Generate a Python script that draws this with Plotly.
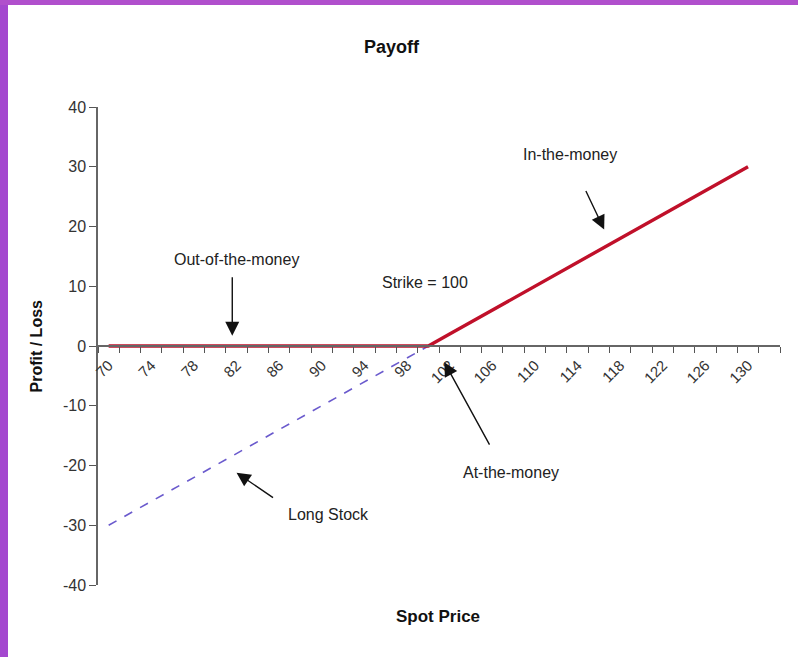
import plotly.graph_objects as go

# 数据：现货价格、看涨期权收益、持有股票收益
spot = [70, 72, 74, 76, 78, 80, 82, 84, 86, 88, 90, 92, 94, 96, 98, 100,
        102, 104, 106, 108, 110, 112, 114, 116, 118, 120, 122, 124, 126, 128, 130]
call_payoff = [0, 0, 0, 0, 0, 0, 0, 0, 0, 0, 0, 0, 0, 0, 0, 0,
               2, 4, 6, 8, 10, 12, 14, 16, 18, 20, 22, 24, 26, 28, 30]
long_stock = [-30, -28, -26, -24, -22, -20, -18, -16, -14, -12, -10, -8, -6, -4, -2, 0,
              2, 4, 6, 8, 10, 12, 14, 16, 18, 20, 22, 24, 26, 28, 30]
x_labels = [70, 74, 78, 82, 86, 90, 94, 98, 102, 106, 110, 114, 118, 122, 126, 130]
y_ticks = [-40, -30, -20, -10, 0, 10, 20, 30, 40]

font = "Liberation Sans, Arial, sans-serif"

fig = go.Figure()
fig.add_trace(go.Scatter(x=spot, y=long_stock, mode="lines",
                         line=dict(color="#6a5acd", width=1.6, dash="dash")))
fig.add_trace(go.Scatter(x=spot, y=call_payoff, mode="lines",
                         line=dict(color="#c0102a", width=3.4)))

fig.update_layout(
    width=798, height=657,
    margin=dict(l=98, r=18, t=107, b=72),
    paper_bgcolor="white", plot_bgcolor="white",
    showlegend=False,
    font=dict(family=font, color="#222"),
)

fig.update_xaxes(
    range=[69, 133], anchor="free", position=0.5,
    tickmode="array", tickvals=x_labels, ticktext=[str(v) for v in x_labels],
    tickangle=-45, ticks="", showgrid=False, zeroline=False,
    showline=True, linecolor="#666", linewidth=1.5,
    tickfont=dict(size=15, color="#333"), ticklabelstandoff=4,
    minor=dict(tick0=69, dtick=2, ticks="outside", ticklen=6,
               tickcolor="#555", tickwidth=1.2, showgrid=False),
)
fig.update_yaxes(
    range=[-40, 40], tickmode="array", tickvals=y_ticks,
    ticktext=[str(v) for v in y_ticks],
    ticks="outside", ticklen=7, tickcolor="#555", tickwidth=1.2,
    showgrid=False, zeroline=False,
    showline=True, linecolor="#666", linewidth=1.5,
    tickfont=dict(size=16, color="#333"),
)

# 紫色边框
fig.add_shape(type="rect", xref="paper", yref="paper",
              x0=-98/682, x1=-90/682, y0=-72/478, y1=(478+107)/478,
              fillcolor="#a447cf", line_width=0, layer="above")
fig.add_shape(type="rect", xref="paper", yref="paper",
              x0=-98/682, x1=(682+18)/682, y0=(478+102)/478, y1=(478+107)/478,
              fillcolor="#b04fcc", line_width=0, layer="above")

# 标题和轴标题
fig.add_annotation(text="<b>Payoff</b>", xref="paper", yref="paper",
                   x=(392-98)/682, y=(585-35)/478, showarrow=False,
                   font=dict(size=18, color="#111"))
fig.add_annotation(text="<b>Spot Price</b>", xref="paper", yref="paper",
                   x=(438-98)/682, y=(585-628)/478, showarrow=False,
                   font=dict(size=17, color="#111"))
fig.add_annotation(text="<b>Profit / Loss</b>", xref="paper", yref="paper",
                   x=(25-98)/682, y=0.5, textangle=-90, showarrow=False,
                   font=dict(size=16, color="#111"))

# 文字标注
labels = [("In-the-money", 113.3, 32), ("Out-of-the-money", 82.0, 14.5),
          ("Strike = 100", 99.7, 10.7), ("At-the-money", 107.8, -21.2),
          ("Long Stock", 90.6, -28.2)]
for t, x, y in labels:
    fig.add_annotation(text=t, x=x, y=y, showarrow=False,
                       font=dict(size=16, color="#222"))

# 箭头
arrows = [(81.6, 1.7, 0, -60), (116.5, 19.5, -19, -40),
          (101.5, -2.7, 46, 84), (82.0, -21.2, 38, 26)]
for x, y, ax, ay in arrows:
    fig.add_annotation(text="", x=x, y=y, ax=ax, ay=ay, showarrow=True,
                       arrowhead=2, arrowsize=2, arrowwidth=1.4, arrowcolor="#111")

# 去掉页面默认边距，隐藏工具栏
fig.write_html("out.html", config={"displayModeBar": False},
               post_script="document.body.style.margin='0';")
